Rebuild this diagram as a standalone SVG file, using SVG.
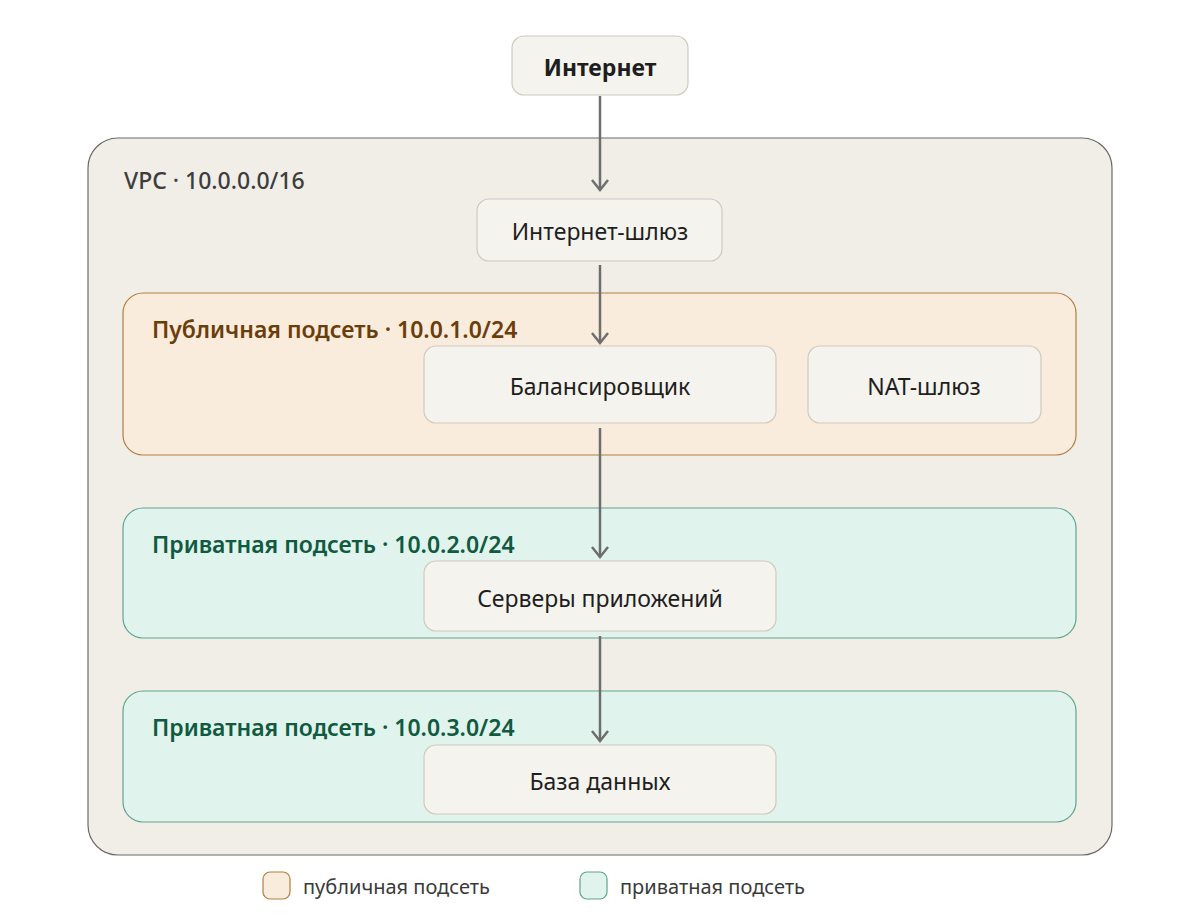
<svg xmlns="http://www.w3.org/2000/svg" width="1200" height="918" viewBox="0 0 1200 918">
<style>
text{font-family:"Noto Sans","Open Sans","DejaVu Sans",sans-serif}
.node{fill:#f5f3ee;stroke:#cfcac0;stroke-width:1.2}
.nt{font-size:23px;fill:#1e1e1e;text-anchor:middle;dominant-baseline:central}
.pub{fill:#faecdc;stroke:#b07f3f;stroke-width:1.2}
.pri{fill:#e0f3ec;stroke:#5ea58c;stroke-width:1.2}
.publ{font-size:23px;font-weight:600;fill:#6b3d0a}
.pril{font-size:23px;font-weight:600;fill:#0f5a40}
.edge{stroke:#6e6e6e;stroke-width:2.5;fill:none;marker-end:url(#ah)}
.leg{font-size:20px;fill:#3a3a3a}
</style>
<defs>
<marker id="ah" viewBox="0 0 20 20" refX="18" refY="10" markerWidth="20" markerHeight="20" markerUnits="userSpaceOnUse" orient="auto">
<path d="M8 2 L18 10 L8 18" fill="none" stroke="#6e6e6e" stroke-width="2.5"/>
</marker>
</defs>
<rect width="1200" height="918" fill="#ffffff"/>
<g id="vpc">
<rect x="88" y="138" width="1024" height="717" rx="30" fill="#f1eee8" stroke="#6b6b6b" stroke-width="1.2"/>
<text x="124" y="189" font-size="23" font-weight="500" fill="#3d3d3d">VPC · 10.0.0.0/16</text>
</g>
<g id="public-subnet">
<rect class="pub" x="123" y="293" width="953" height="162" rx="20"/>
<text class="publ" x="152" y="338">Публичная подсеть · 10.0.1.0/24</text>
</g>
<g id="private-subnet-1">
<rect class="pri" x="123" y="508" width="953" height="130" rx="20"/>
<text class="pril" x="152" y="553">Приватная подсеть · 10.0.2.0/24</text>
</g>
<g id="private-subnet-2">
<rect class="pri" x="123" y="691" width="953" height="131" rx="20"/>
<text class="pril" x="152" y="736">Приватная подсеть · 10.0.3.0/24</text>
</g>
<g id="internet">
<rect class="node" x="512" y="36" width="176" height="59" rx="12"/>
<text class="nt" x="600" y="67" font-weight="700">Интернет</text>
</g>
<g id="igw">
<rect class="node" x="477" y="199" width="245" height="62" rx="12"/>
<text class="nt" x="600" y="231">Интернет-шлюз</text>
</g>
<g id="lb">
<rect class="node" x="424" y="346" width="352" height="77" rx="12"/>
<text class="nt" x="600" y="386">Балансировщик</text>
</g>
<g id="nat">
<rect class="node" x="808" y="346" width="233" height="77" rx="12"/>
<text class="nt" x="924" y="386">NAT-шлюз</text>
</g>
<g id="app">
<rect class="node" x="424" y="561" width="352" height="70" rx="12"/>
<text class="nt" x="600" y="598">Серверы приложений</text>
</g>
<g id="db">
<rect class="node" x="424" y="745" width="352" height="69" rx="12"/>
<text class="nt" x="600" y="781">База данных</text>
</g>
<g id="connectors">
<line class="edge" x1="600" y1="96" x2="600" y2="190"/>
<line class="edge" x1="600" y1="265" x2="600" y2="343"/>
<line class="edge" x1="600" y1="428" x2="600" y2="557"/>
<line class="edge" x1="600" y1="636" x2="600" y2="741"/>
</g>
<g id="legend">
<rect class="pub" x="263" y="872" width="27" height="27" rx="7" stroke-width="1.5"/>
<text class="leg" x="303" y="894">публичная подсеть</text>
<rect class="pri" x="580" y="872" width="27" height="27" rx="7" stroke-width="1.5"/>
<text class="leg" x="620" y="894">приватная подсеть</text>
</g>
</svg>
